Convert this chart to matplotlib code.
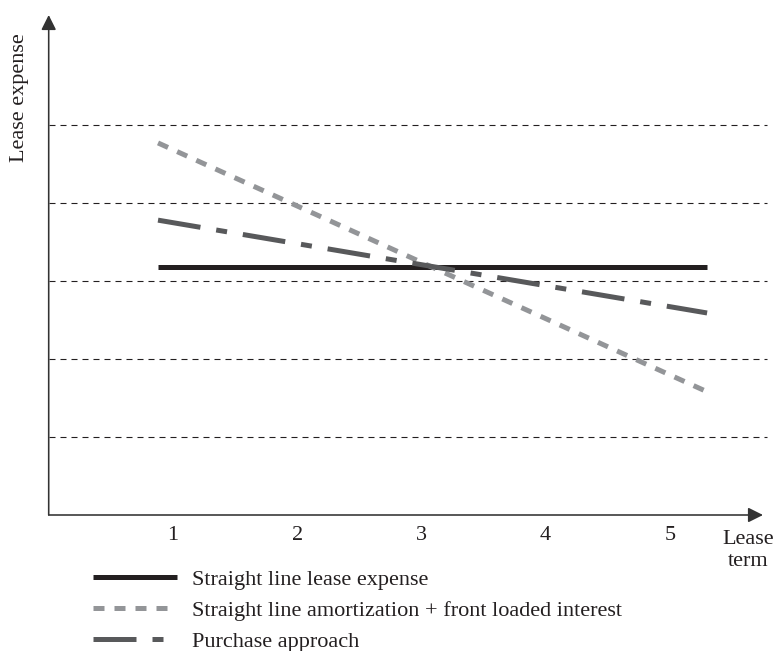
import matplotlib
matplotlib.use("Agg")
import matplotlib.pyplot as plt
from matplotlib.lines import Line2D

plt.rcParams['font.family'] = ['Liberation Serif', 'DejaVu Serif']
plt.rcParams['font.size'] = 16

# ---- data ----
term = [0.88, 5.30]
straight_line = [3.18, 3.18]
amortization = [4.77, 1.58]
purchase = [3.78, 2.59]
x_ticks = [1, 2, 3, 4, 5]
x_tick_labels = ["1", "2", "3", "4", "5"]
grid_levels = [1, 2, 3, 4, 5]
labels = ["Straight line lease expense",
          "Straight line amortization + front loaded interest",
          "Purchase approach"]

W, H = 774, 651
fig = plt.figure(figsize=(W / 100, H / 100), dpi=100)
ax = fig.add_axes([48.7 / W, 136 / H, (763 - 48.7) / W, 500 / H])
ax.set_xlim(0, 5.75)
ax.set_ylim(0, 6.41)
for s in ax.spines.values():
    s.set_visible(False)

def px(v):
    return v * 0.72

# grid lines
glw = px(1.1)
hl = ax.hlines(grid_levels, 0, 5.78, colors='#231f20', linewidth=glw,
               linestyles=(0, (px(6) / glw, px(5) / glw)))
hl.set_clip_on(False)

lw = px(5)
c_black = '#231f20'
c_light = '#939598'
c_dark = '#58595b'
ls_light = (0, (px(11) / lw, px(10) / lw))
ls_dark = (0, (px(43) / lw, px(16) / lw, px(11) / lw, px(16) / lw))

l1, = ax.plot(term, straight_line, color=c_black, lw=lw, solid_capstyle='butt', zorder=3)
l2, = ax.plot(term, amortization, color=c_light, lw=lw, linestyle=ls_light, zorder=4)
l3, = ax.plot(term, purchase, color=c_dark, lw=lw, linestyle=ls_dark, zorder=5)

# axes with arrows
acol = '#333333'
arrow = dict(arrowstyle='-|>,head_length=0.9,head_width=0.45', color=acol,
             lw=px(1.6), shrinkA=0, shrinkB=0, mutation_scale=10)
ax.annotate('', xy=(1, 0), xytext=(0, 0), xycoords='axes fraction',
            textcoords='axes fraction', arrowprops=arrow, annotation_clip=False)
ax.annotate('', xy=(0, 1), xytext=(0, 0), xycoords='axes fraction',
            textcoords='axes fraction', arrowprops=arrow, annotation_clip=False)

ax.set_xticks(x_ticks)
ax.set_xticklabels(x_tick_labels, color='#231f20')
ax.set_yticks([])
ax.tick_params(axis='x', length=0, pad=8)

fig.text(20 / W, 1 - 98 / H, 'Lease expense', rotation=90, ha='center', va='center',
         color='#231f20')
fig.text(748 / W, 1 - 539 / H, 'Lease', ha='center', va='center', color='#231f20')
fig.text(748 / W, 1 - 562 / H, 'term', ha='center', va='center', color='#231f20')

fig.legend([l1, l2, l3], labels, loc='upper left',
           bbox_to_anchor=(93 / W, 1 - 569 / H), frameon=False,
           handlelength=84 / 22.2, handletextpad=15 / 22.2, labelspacing=0.48,
           borderpad=0, borderaxespad=0, labelcolor='#231f20')

fig.savefig('out.png', dpi=100)
